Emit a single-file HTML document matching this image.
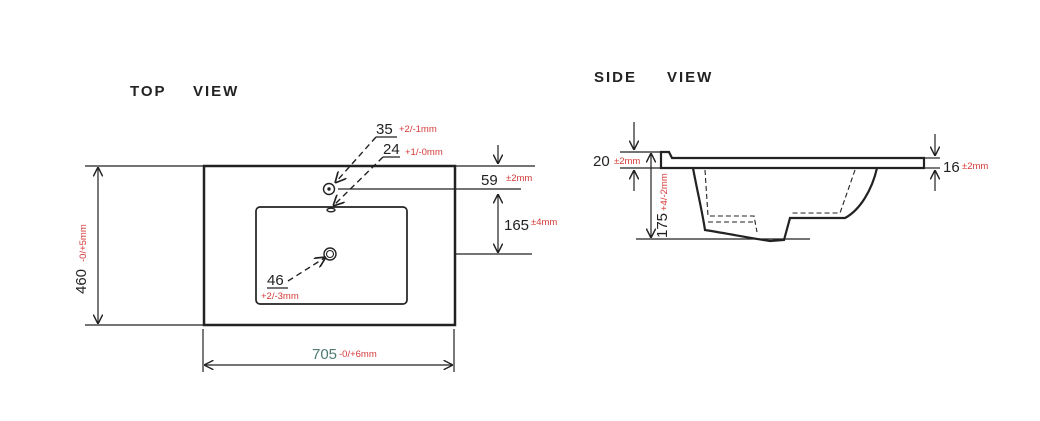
<!DOCTYPE html>
<html><head><meta charset="utf-8"><style>
html,body{margin:0;padding:0;background:#fff;}
svg{display:block;font-family:"Liberation Sans",Arial,sans-serif;}
.t{font-size:15px;fill:#222;}
.r{font-size:9.5px;fill:#d63a3a;}
.h{font-size:15px;font-weight:bold;fill:#222;letter-spacing:2px;}
</style></head><body>
<svg width="1040" height="421" viewBox="0 0 1040 421">
<defs>
<marker id="a" viewBox="0 0 10 10" refX="10" refY="5" markerWidth="8" markerHeight="8" orient="auto-start-reverse"><path d="M0,0 L10,5 L0,10" fill="none" stroke="#222" stroke-width="1.5"/></marker>
</defs>
<text class="h" x="130" y="96">TOP</text><text class="h" x="193" y="96">VIEW</text>
<text class="h" x="594" y="82">SIDE</text><text class="h" x="667" y="82">VIEW</text>

<g stroke="#222" fill="none">
<rect x="204" y="166" width="251" height="159" stroke-width="2.5"/>
<rect x="256" y="207" width="151" height="97" rx="4" stroke-width="1.7"/>
<circle cx="329" cy="189" r="5.5" stroke-width="1.4"/>
<circle cx="329" cy="189" r="1.2" fill="#222"/>
<ellipse cx="331" cy="210" rx="4" ry="1.8" stroke-width="1.4"/>
<circle cx="330" cy="254" r="6" stroke-width="1.4"/>
<circle cx="330" cy="254" r="3.5" stroke-width="1.1"/>
<g stroke-width="1.2">
<line x1="85" y1="166" x2="203" y2="166"/>
<line x1="85" y1="325" x2="203" y2="325"/>
<line x1="98" y1="167" x2="98" y2="324" marker-start="url(#a)" marker-end="url(#a)"/>
<line x1="203" y1="329" x2="203" y2="372"/>
<line x1="454" y1="329" x2="454" y2="372"/>
<line x1="204" y1="365" x2="453" y2="365" marker-start="url(#a)" marker-end="url(#a)"/>
<line x1="455" y1="166" x2="535" y2="166"/>
<line x1="338" y1="189" x2="521" y2="189"/>
<line x1="456" y1="254" x2="532" y2="254"/>
<line x1="498" y1="145" x2="498" y2="164" marker-end="url(#a)"/>
<line x1="498" y1="194" x2="498" y2="253" marker-start="url(#a)" marker-end="url(#a)"/>
<line x1="376" y1="137" x2="397" y2="137"/>
<line x1="383" y1="157" x2="400" y2="157"/>
<line x1="267" y1="288" x2="288" y2="288"/>
</g>
<g stroke-width="1.4" stroke-dasharray="6,4">
<line x1="376" y1="137" x2="335" y2="183" marker-end="url(#a)"/>
<line x1="383" y1="157" x2="333" y2="206" marker-end="url(#a)"/>
<line x1="288" y1="281" x2="326" y2="257" marker-end="url(#a)"/>
</g>
<path d="M661,152 L669,152 L671,156 L672,158 L924,158 L924,168 L661,168 Z" stroke-width="2.2"/>
<path d="M693,168 C697,190 702,210 705,230 C730,234 750,238 770,241 L784,240 L790,218 L845,218 C860,210 872,190 877,168" stroke-width="2.2"/>
<path d="M705,170 L708,216 L754,216 L757,232 M708,222 L754,222 M855,170 L840,213 L790,213" stroke-width="1.1" stroke-dasharray="5,3"/>
<g stroke-width="1.2">
<line x1="636" y1="239" x2="810" y2="239"/>
<line x1="620" y1="152" x2="660" y2="152"/>
<line x1="620" y1="168" x2="660" y2="168"/>
<line x1="651" y1="153" x2="651" y2="238" marker-start="url(#a)" marker-end="url(#a)"/>
<line x1="634" y1="122" x2="634" y2="150" marker-end="url(#a)"/>
<line x1="634" y1="191" x2="634" y2="170" marker-end="url(#a)"/>
<line x1="925" y1="158" x2="940" y2="158"/>
<line x1="925" y1="168" x2="940" y2="168"/>
<line x1="935" y1="134" x2="935" y2="156" marker-end="url(#a)"/>
<line x1="935" y1="191" x2="935" y2="170" marker-end="url(#a)"/>
</g>
</g>

<text class="t" x="376" y="134">35</text><text class="r" x="399" y="132">+2/-1mm</text>
<text class="t" x="383" y="154">24</text><text class="r" x="405" y="155">+1/-0mm</text>
<text class="t" x="481" y="185">59</text><text class="r" x="506" y="181">±2mm</text>
<text class="t" x="504" y="230">165</text><text class="r" x="531" y="225">±4mm</text>
<text class="t" x="267" y="285">46</text><text class="r" x="261" y="299">+2/-3mm</text>
<text class="t" x="312" y="359" style="fill:#4e7a72">705</text><text class="r" x="339" y="357">-0/+6mm</text>
<text class="t" transform="translate(86,294) rotate(-90)">460</text>
<text class="r" transform="translate(86,262) rotate(-90)">-0/+5mm</text>
<text class="t" x="593" y="166">20</text><text class="r" x="614" y="164">±2mm</text>
<text class="t" transform="translate(667,238) rotate(-90)">175</text>
<text class="r" transform="translate(667,211) rotate(-90)">+4/-2mm</text>
<text class="t" x="943" y="172">16</text><text class="r" x="962" y="169">±2mm</text>
</svg>
</body></html>
